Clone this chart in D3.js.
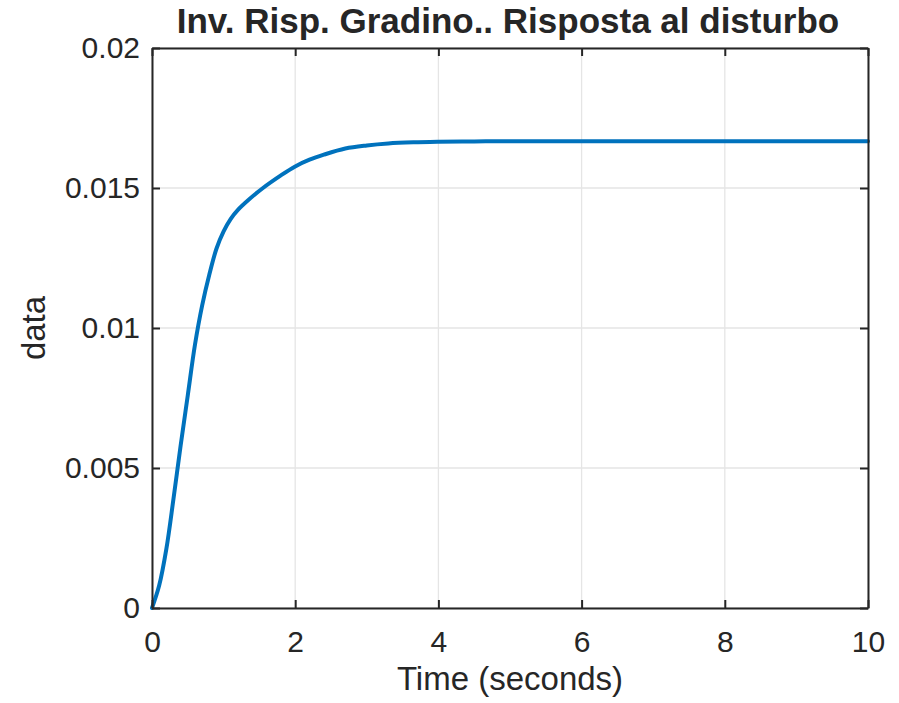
<!DOCTYPE html>
<html>
<head>
<meta charset="utf-8">
<script src="https://cdn.jsdelivr.net/npm/d3@7"></script>
<style>
  html, body { margin: 0; padding: 0; background: #fff; }
  svg { display: block; }
  text { font-family: "Liberation Sans", Arial, Helvetica, sans-serif; fill: #262626; }
</style>
</head>
<body>
<svg id="chart" width="899" height="703"></svg>
<script>
// Step response samples: time (s) and output value
const timeSeconds = [0, 0.1, 0.2, 0.3, 0.4, 0.5, 0.6, 0.7, 0.8, 0.9, 1.0, 1.1, 1.2, 1.35, 1.55,
  1.8, 2.0, 2.2, 2.4, 2.7, 3.0, 3.3, 3.65, 4.0, 4.5, 5, 6, 7, 8, 9, 10];
const responseData = [0, 0.0008, 0.0021, 0.0039, 0.0058, 0.0076, 0.0094, 0.0108, 0.0119, 0.01283,
  0.01345, 0.0139, 0.01422, 0.01458, 0.0150, 0.01545, 0.01577, 0.01601, 0.01619, 0.01641, 0.01652,
  0.01659, 0.01663, 0.01665, 0.016665, 0.016667, 0.016667, 0.016667, 0.016667, 0.016667, 0.016667];
const xTicks = [0, 2, 4, 6, 8, 10];
const yTicks = [0, 0.005, 0.01, 0.015, 0.02];
const yTickLabels = ["0", "0.005", "0.01", "0.015", "0.02"];

const titleText = "Inv. Risp. Gradino.. Risposta al disturbo";
const xLabelText = "Time (seconds)";
const yLabelText = "data";

const svg = d3.select("#chart");
const plot = { left: 152, top: 48, right: 868, bottom: 608 };

const x = d3.scaleLinear().domain([0, 10]).range([plot.left, plot.right]);
const y = d3.scaleLinear().domain([0, 0.02]).range([plot.bottom, plot.top]);

const axisColor = "#262626";
const gridColor = "#e5e5e5";
const tickLen = 8;

// grid lines
const grid = svg.append("g");
grid.selectAll(".gx").data(xTicks).enter().append("line")
  .attr("x1", d => x(d)).attr("x2", d => x(d))
  .attr("y1", plot.top).attr("y2", plot.bottom)
  .attr("stroke", gridColor).attr("stroke-width", 1.3);
grid.selectAll(".gy").data(yTicks).enter().append("line")
  .attr("x1", plot.left).attr("x2", plot.right)
  .attr("y1", d => y(d)).attr("y2", d => y(d))
  .attr("stroke", gridColor).attr("stroke-width", 1.3);

// response curve
const pts = timeSeconds.map((t, i) => [t, responseData[i]]);
const line = d3.line().x(d => x(d[0])).y(d => y(d[1])).curve(d3.curveCatmullRom.alpha(0.5));
svg.append("path").datum(pts)
  .attr("d", line)
  .attr("fill", "none")
  .attr("stroke", "#0072BD")
  .attr("stroke-width", 4)
  .attr("stroke-linejoin", "round")
  .attr("stroke-linecap", "round");

// axes with inward ticks on all four sides
const fmtY = d => yTickLabels[yTicks.indexOf(d)];
const bottomAxis = d3.axisBottom(x).tickValues(xTicks).tickSizeInner(-tickLen).tickSizeOuter(0).tickPadding(23);
const topAxis = d3.axisTop(x).tickValues(xTicks).tickSizeInner(-tickLen).tickSizeOuter(0).tickFormat("");
const leftAxis = d3.axisLeft(y).tickValues(yTicks).tickSizeInner(-tickLen).tickSizeOuter(0).tickPadding(12).tickFormat(fmtY);
const rightAxis = d3.axisRight(y).tickValues(yTicks).tickSizeInner(-tickLen).tickSizeOuter(0).tickFormat("");

function styleAxis(g) {
  g.select(".domain").attr("stroke", axisColor).attr("stroke-width", 2);
  g.selectAll(".tick line").attr("stroke", axisColor).attr("stroke-width", 2);
  g.selectAll(".tick text").attr("fill", axisColor)
    .style("font-family", '"Liberation Sans", Arial, sans-serif').style("font-size", "30px");
}

svg.append("g").attr("transform", `translate(0,${plot.bottom})`).call(bottomAxis).call(styleAxis);
svg.append("g").attr("transform", `translate(0,${plot.top})`).call(topAxis).call(styleAxis);
svg.append("g").attr("transform", `translate(${plot.left},0)`).call(leftAxis).call(styleAxis);
svg.append("g").attr("transform", `translate(${plot.right},0)`).call(rightAxis).call(styleAxis);

// titles
svg.append("text")
  .attr("x", (plot.left + plot.right) / 2 - 2).attr("y", 33)
  .attr("text-anchor", "middle")
  .style("font-size", "35px").style("font-weight", "bold")
  .attr("fill", "#000")
  .text(titleText);

svg.append("text")
  .attr("x", (plot.left + plot.right) / 2).attr("y", 690)
  .attr("text-anchor", "middle")
  .style("font-size", "33px")
  .text(xLabelText);

svg.append("text")
  .attr("transform", `translate(45,${(plot.top + plot.bottom) / 2}) rotate(-90)`)
  .attr("text-anchor", "middle")
  .style("font-size", "33px")
  .text(yLabelText);
</script>
</body>
</html>
